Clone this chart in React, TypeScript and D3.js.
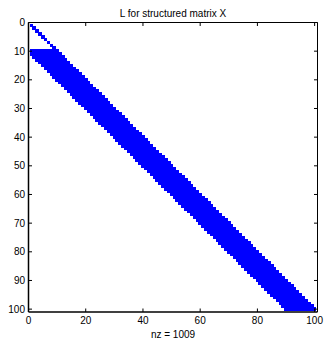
import React from "react";
import * as d3 from "d3";

// Sparsity structure of L (n x n)
const matrixSize = 100;
const blockFirstRow = [1, 10];
const blockLastRow = [9, 100];
const blockLowerBandwidth = [0, 10];

const xTicks = [0, 20, 40, 60, 80, 100];
const yTicks = [0, 10, 20, 30, 40, 50, 60, 70, 80, 90, 100];
const title = "L for structured matrix X";

function buildPattern() {
  const pts: { r: number; c: number }[] = [];
  blockFirstRow.forEach((first, b) => {
    for (let r = first; r <= blockLastRow[b]; r++) {
      for (let c = Math.max(1, r - blockLowerBandwidth[b]); c <= r; c++) {
        pts.push({ r, c });
      }
    }
  });
  return pts;
}

export default function App() {
  const W = 325, H = 339;
  const left = 28.5, right = 317.5, top = 22.5, bottom = 312;
  const x = d3.scaleLinear().domain([0, matrixSize + 1]).range([left, right]);
  const y = d3.scaleLinear().domain([0, matrixSize + 1]).range([top, bottom]);
  const pts = buildPattern();
  const nz = pts.length;
  const s = 3.6;
  const tl = 3.5;
  const font = "Liberation Sans, Arial, Helvetica, sans-serif";
  return (
    <svg width={W} height={H} style={{ position: "absolute", left: 0, top: 0, background: "#fff" }}>
      <rect x={0} y={0} width={W} height={H} fill="#fff" />
      <g shapeRendering="crispEdges">
        {pts.map((p, i) => (
          <rect key={i} x={x(p.c) - s / 2} y={y(p.r) - s / 2} width={s} height={s} fill="#0000ff" />
        ))}
      </g>
      <g stroke="#000" fill="none">
        <line x1={left} x2={right} y1={top} y2={top} strokeWidth={1} />
        <line x1={right} x2={right} y1={top} y2={bottom} strokeWidth={1} />
        <line x1={left} x2={left} y1={top} y2={bottom} strokeWidth={1.5} />
        <line x1={left} x2={right} y1={bottom} y2={bottom} strokeWidth={1.5} />
        {xTicks.map((t) => (
          <g key={"xt" + t}>
            <line x1={x(t)} x2={x(t)} y1={bottom} y2={bottom - tl} strokeWidth={1} />
            <line x1={x(t)} x2={x(t)} y1={top} y2={top + tl} strokeWidth={1} />
          </g>
        ))}
        {yTicks.map((t) => (
          <g key={"yt" + t}>
            <line x1={left} x2={left + tl} y1={y(t)} y2={y(t)} strokeWidth={1} />
            <line x1={right} x2={right - tl} y1={y(t)} y2={y(t)} strokeWidth={1} />
          </g>
        ))}
      </g>
      <g fontFamily={font} fontSize={10} fill="#000">
        {xTicks.map((t) => (
          <text key={"xl" + t} x={x(t)} y={bottom + 12} textAnchor="middle">{t}</text>
        ))}
        {yTicks.map((t) => (
          <text key={"yl" + t} x={left - 3.5} y={y(t) + 3.5} textAnchor="end">{t}</text>
        ))}
        <text x={(left + right) / 2} y={bottom + 25.5} textAnchor="middle">{`nz = ${nz}`}</text>
        <text x={(left + right) / 2} y={top - 6} textAnchor="middle">{title}</text>
      </g>
    </svg>
  );
}
